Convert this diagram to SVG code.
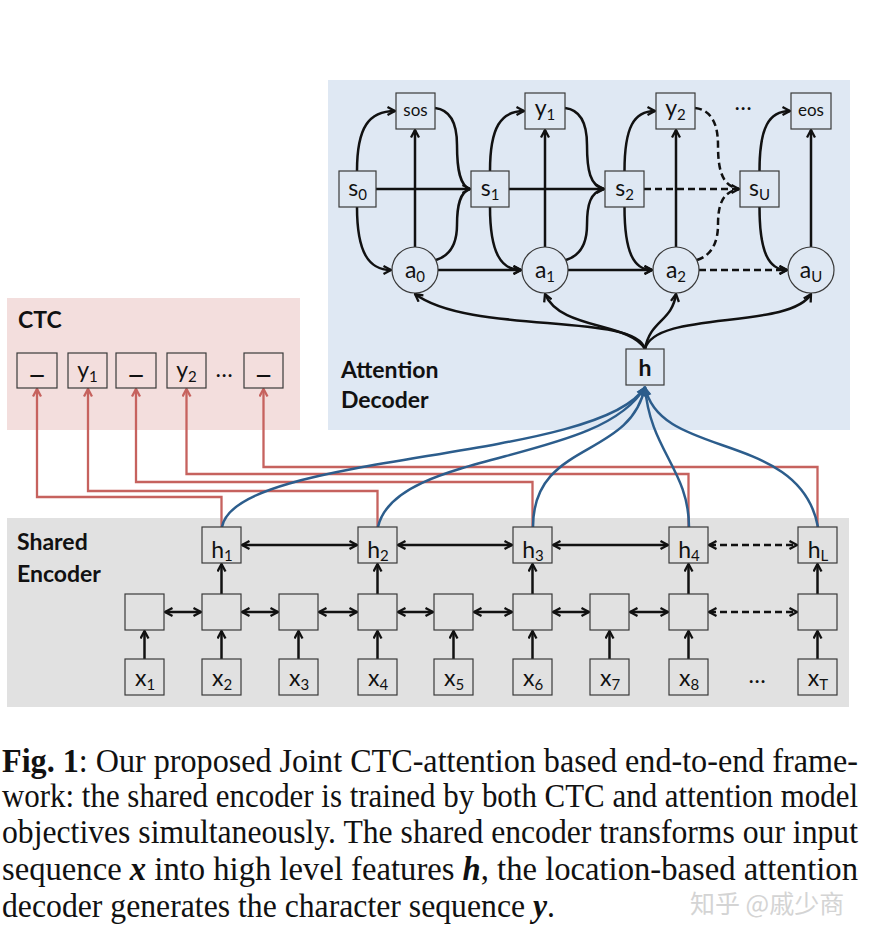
<svg xmlns="http://www.w3.org/2000/svg" width="874" height="938" viewBox="0 0 874 938">
<style>
.bx{stroke:#3a3a3a;stroke-width:1.2}
.dec{fill:#dfe8f3}
.ctc{fill:#f3dedd}
.enc{fill:#e1e1e1}
.lb{font-family:Lato,"Open Sans",sans-serif;font-size:23px;fill:#111;text-anchor:middle}
.sub{font-size:15px}
.sm{font-size:17px}
.us{font-size:34px}
.ttl{font-family:Lato,"Open Sans",sans-serif;font-weight:bold;font-size:23px;fill:#111}
.k{fill:none;stroke:#111;stroke-width:2.5}
.kd{fill:none;stroke:#111;stroke-width:2.5;stroke-dasharray:7,4}
.r{fill:none;stroke:#c6625e;stroke-width:2.3}
.b{fill:none;stroke:#2c5d8c;stroke-width:2.5}
.cap{font-family:"Liberation Serif","Times New Roman",serif;font-size:30px;fill:#111}
.m{font-weight:bold;font-style:italic}
</style>
<defs>
<marker id="ak" viewBox="0 0 10 10" markerWidth="10" markerHeight="10" refX="9" refY="5" orient="auto-start-reverse" markerUnits="userSpaceOnUse"><path d="M1.5,1 L9,5 L1.5,9" fill="none" stroke="#111" stroke-width="2.3" stroke-linejoin="miter"/></marker>
<marker id="ar" viewBox="0 0 10 10" markerWidth="10" markerHeight="10" refX="9" refY="5" orient="auto" markerUnits="userSpaceOnUse"><path d="M1.5,1 L9,5 L1.5,9" fill="none" stroke="#c6625e" stroke-width="2.3"/></marker>
<marker id="ab" viewBox="0 0 10 10" markerWidth="10" markerHeight="10" refX="9" refY="5" orient="auto" markerUnits="userSpaceOnUse"><path d="M1,1 L9,5 L1,9 Z" fill="#2c5d8c" stroke="#2c5d8c" stroke-width="1"/></marker>
</defs>
<rect width="874" height="938" fill="#fff"/>
<!-- panels -->
<g id="panels">
<rect x="328" y="80" width="522" height="350" fill="#dfe8f3"/>
<rect x="7" y="298" width="293" height="132" fill="#f3dedd"/>
<rect x="7" y="518" width="842" height="189" fill="#e1e1e1"/>
<text class="ttl" x="18" y="328" font-size="21">CTC</text>
<text class="ttl" x="341" y="378">Attention</text>
<text class="ttl" x="341" y="408">Decoder</text>
<text class="ttl" x="17" y="550">Shared</text>
<text class="ttl" x="17" y="582">Encoder</text>
</g>
<!-- connectors -->
<g id="connectors">
<!-- decoder col0 -->
<path class="k" marker-end="url(#ak)" d="M357,171 C357,127 369,111 395,111"/>
<path class="k" marker-end="url(#ak)" d="M357,207 C357,253 369,270 391,270"/>
<path class="k" marker-end="url(#ak)" d="M415,247 L415,130"/>
<path class="k" marker-end="url(#ak)" d="M375,189 L470,189"/>
<path class="k" d="M435,108 C452,110 457,125 457,145 C457,170 460,186 470,189"/>
<path class="k" d="M436,260 C452,255 457,240 457,225 C457,205 460,192 470,189"/>
<path class="k" marker-end="url(#ak)" d="M438,270 L521,270"/>
<!-- col1 -->
<path class="k" marker-end="url(#ak)" d="M490,171 C490,127 501,111 524,111"/>
<path class="k" marker-end="url(#ak)" d="M490,207 C490,253 501,270 521,270"/>
<path class="k" marker-end="url(#ak)" d="M545,247 L545,130"/>
<path class="k" marker-end="url(#ak)" d="M509,189 L604,189"/>
<path class="k" d="M565,108 C582,110 587,125 587,145 C587,170 590,186 604,189"/>
<path class="k" d="M566,260 C582,255 587,240 587,225 C587,205 590,192 604,189"/>
<path class="k" marker-end="url(#ak)" d="M568,270 L652,270"/>
<!-- col2 -->
<path class="k" marker-end="url(#ak)" d="M624.5,171 C624.5,127 634,111 655,111"/>
<path class="k" marker-end="url(#ak)" d="M624.5,207 C624.5,253 634,270 652,270"/>
<path class="k" marker-end="url(#ak)" d="M676,247 L676,130"/>
<path class="kd" marker-end="url(#ak)" d="M644,189 L739,189"/>
<path class="kd" d="M695,108 C712,110 718,125 718,145 C718,170 722,186 739,189"/>
<path class="kd" d="M697,260 C713,255 718,240 718,225 C718,205 722,192 739,189"/>
<path class="kd" marker-end="url(#ak)" d="M699,270 L787,270"/>
<!-- colU -->
<path class="k" marker-end="url(#ak)" d="M759.5,171 C759.5,127 769,111 790,111"/>
<path class="k" marker-end="url(#ak)" d="M759.5,207 C759.5,253 769,270 787,270"/>
<path class="k" marker-end="url(#ak)" d="M811,247 L811,130"/>
<!-- h to attention -->
<path class="k" marker-end="url(#ak)" d="M645,349 C635,312 470,335 415,294"/>
<path class="k" marker-end="url(#ak)" d="M645,349 C630,322 560,330 545,294"/>
<path class="k" marker-end="url(#ak)" d="M645,349 C650,320 672,322 676,294"/>
<path class="k" marker-end="url(#ak)" d="M645,349 C655,310 790,330 811,294"/>
<!-- CTC red -->
<path class="r" marker-end="url(#ar)" d="M221.5,527 L221.5,497 L37,497 L37,389"/>
<path class="r" marker-end="url(#ar)" d="M377.5,527 L377.5,491 L88,491 L88,389"/>
<path class="r" marker-end="url(#ar)" d="M532.5,527 L532.5,482 L136,482 L136,389"/>
<path class="r" marker-end="url(#ar)" d="M688.5,527 L688.5,474 L186.5,474 L186.5,389"/>
<path class="r" marker-end="url(#ar)" d="M817.5,527 L817.5,467 L263.5,467 L263.5,389"/>
<!-- blue to h -->
<path class="b" marker-end="url(#ab)" d="M222,527 C235,452 600,462 645,387"/>
<path class="b" marker-end="url(#ab)" d="M378,527 C395,450 600,465 645,387"/>
<path class="b" marker-end="url(#ab)" d="M533,527 C533,440 630,460 645,387"/>
<path class="b" marker-end="url(#ab)" d="M689,527 C689,470 650,450 645,387"/>
<path class="b" marker-end="url(#ab)" d="M818,527 C800,430 660,460 645,387"/>
<!-- encoder h row -->
<path class="k" marker-start="url(#ak)" marker-end="url(#ak)" d="M242,545 L357,545"/>
<path class="k" marker-start="url(#ak)" marker-end="url(#ak)" d="M398,545 L512,545"/>
<path class="k" marker-start="url(#ak)" marker-end="url(#ak)" d="M553,545 L668,545"/>
<path class="kd" marker-start="url(#ak)" marker-end="url(#ak)" d="M709,545 L797,545"/>
<!-- encoder mid row -->
<path class="k" marker-start="url(#ak)" marker-end="url(#ak)" d="M165,612 L201,612"/>
<path class="k" marker-start="url(#ak)" marker-end="url(#ak)" d="M242,612 L278,612"/>
<path class="k" marker-start="url(#ak)" marker-end="url(#ak)" d="M319,612 L357,612"/>
<path class="k" marker-start="url(#ak)" marker-end="url(#ak)" d="M398,612 L433,612"/>
<path class="k" marker-start="url(#ak)" marker-end="url(#ak)" d="M474,612 L512,612"/>
<path class="k" marker-start="url(#ak)" marker-end="url(#ak)" d="M553,612 L589,612"/>
<path class="k" marker-start="url(#ak)" marker-end="url(#ak)" d="M630,612 L668,612"/>
<path class="kd" marker-start="url(#ak)" marker-end="url(#ak)" d="M709,612 L797,612"/>
<!-- verticals mid->h -->
<path class="k" marker-end="url(#ak)" d="M221.5,594 L221.5,564"/>
<path class="k" marker-end="url(#ak)" d="M377.5,594 L377.5,564"/>
<path class="k" marker-end="url(#ak)" d="M532.5,594 L532.5,564"/>
<path class="k" marker-end="url(#ak)" d="M688.5,594 L688.5,564"/>
<path class="k" marker-end="url(#ak)" d="M817.5,594 L817.5,564"/>
<!-- verticals x->mid -->
<path class="k" marker-end="url(#ak)" d="M144.5,659 L144.5,631"/>
<path class="k" marker-end="url(#ak)" d="M221.5,659 L221.5,631"/>
<path class="k" marker-end="url(#ak)" d="M298.5,659 L298.5,631"/>
<path class="k" marker-end="url(#ak)" d="M377.5,659 L377.5,631"/>
<path class="k" marker-end="url(#ak)" d="M453.5,659 L453.5,631"/>
<path class="k" marker-end="url(#ak)" d="M532.5,659 L532.5,631"/>
<path class="k" marker-end="url(#ak)" d="M609.5,659 L609.5,631"/>
<path class="k" marker-end="url(#ak)" d="M688.5,659 L688.5,631"/>
<path class="k" marker-end="url(#ak)" d="M817.5,659 L817.5,631"/>
</g>
<!-- decoder nodes -->
<g id="s0"><rect class="bx dec" x="339" y="171" width="37" height="36"/><text class="lb" x="357.5" y="196">s<tspan class="sub" dy="4">0</tspan></text></g>
<g id="s1"><rect class="bx dec" x="471" y="171" width="38" height="36"/><text class="lb" x="490" y="196">s<tspan class="sub" dy="4">1</tspan></text></g>
<g id="s2"><rect class="bx dec" x="605" y="171" width="39" height="36"/><text class="lb" x="624.5" y="196">s<tspan class="sub" dy="4">2</tspan></text></g>
<g id="sU"><rect class="bx dec" x="740" y="171" width="39" height="36"/><text class="lb" x="759.5" y="196">s<tspan class="sub" dy="4">U</tspan></text></g>
<g id="sos"><rect class="bx dec" x="396" y="93" width="39" height="36"/><text class="lb sm" x="415.5" y="116">sos</text></g>
<g id="y1d"><rect class="bx dec" x="525" y="93" width="40" height="36"/><text class="lb" x="545" y="116">y<tspan class="sub" dy="4">1</tspan></text></g>
<g id="y2d"><rect class="bx dec" x="656" y="93" width="39" height="36"/><text class="lb" x="675.5" y="116">y<tspan class="sub" dy="4">2</tspan></text></g>
<g id="eos"><rect class="bx dec" x="791" y="93" width="40" height="36"/><text class="lb sm" x="811" y="116">eos</text></g>
<text class="lb" x="743" y="110" font-size="16">…</text>
<g id="a0"><circle class="bx dec" cx="415" cy="270" r="23"/><text class="lb" x="415" y="278">a<tspan class="sub" dy="4">0</tspan></text></g>
<g id="a1"><circle class="bx dec" cx="545" cy="270" r="23"/><text class="lb" x="545" y="278">a<tspan class="sub" dy="4">1</tspan></text></g>
<g id="a2"><circle class="bx dec" cx="676" cy="270" r="23"/><text class="lb" x="676" y="278">a<tspan class="sub" dy="4">2</tspan></text></g>
<g id="aU"><circle class="bx dec" cx="811" cy="270" r="23"/><text class="lb" x="811" y="278">a<tspan class="sub" dy="4">U</tspan></text></g>
<g id="h"><rect class="bx dec" x="626" y="349" width="38" height="36"/><text class="lb" x="645" y="376" font-weight="bold" font-size="22">h</text></g>
<!-- CTC nodes -->
<g id="c1"><rect class="bx ctc" x="17" y="353" width="40" height="35"/><text class="lb us" x="37" y="372">_</text></g>
<g id="c2"><rect class="bx ctc" x="68" y="353" width="39" height="35"/><text class="lb" x="87.5" y="378">y<tspan class="sub" dy="4">1</tspan></text></g>
<g id="c3"><rect class="bx ctc" x="116" y="353" width="40" height="35"/><text class="lb us" x="136" y="372">_</text></g>
<g id="c4"><rect class="bx ctc" x="167" y="353" width="39" height="35"/><text class="lb" x="186.5" y="378">y<tspan class="sub" dy="4">2</tspan></text></g>
<text class="lb" x="224" y="377" font-size="16">…</text>
<g id="c5"><rect class="bx ctc" x="244" y="353" width="39" height="35"/><text class="lb us" x="263.5" y="372">_</text></g>
<!-- encoder h -->
<g id="h1"><rect class="bx enc" x="202" y="527" width="39" height="36"/><text class="lb" x="222" y="558">h<tspan class="sub" dy="3">1</tspan></text></g>
<g id="h2"><rect class="bx enc" x="358" y="527" width="39" height="36"/><text class="lb" x="378" y="558">h<tspan class="sub" dy="3">2</tspan></text></g>
<g id="h3"><rect class="bx enc" x="513" y="527" width="39" height="36"/><text class="lb" x="533" y="558">h<tspan class="sub" dy="3">3</tspan></text></g>
<g id="h4"><rect class="bx enc" x="669" y="527" width="39" height="36"/><text class="lb" x="689" y="558">h<tspan class="sub" dy="3">4</tspan></text></g>
<g id="hL"><rect class="bx enc" x="798" y="527" width="39" height="36"/><text class="lb" x="818" y="558">h<tspan class="sub" dy="3">L</tspan></text></g>
<!-- encoder mid -->
<g id="m1"><rect class="bx enc" x="125" y="594" width="39" height="36"/></g>
<g id="m2"><rect class="bx enc" x="202" y="594" width="39" height="36"/></g>
<g id="m3"><rect class="bx enc" x="279" y="594" width="39" height="36"/></g>
<g id="m4"><rect class="bx enc" x="358" y="594" width="39" height="36"/></g>
<g id="m5"><rect class="bx enc" x="434" y="594" width="39" height="36"/></g>
<g id="m6"><rect class="bx enc" x="513" y="594" width="39" height="36"/></g>
<g id="m7"><rect class="bx enc" x="590" y="594" width="39" height="36"/></g>
<g id="m8"><rect class="bx enc" x="669" y="594" width="39" height="36"/></g>
<g id="mT"><rect class="bx enc" x="798" y="594" width="39" height="36"/></g>
<!-- encoder x -->
<g id="x1"><rect class="bx enc" x="125" y="659" width="39" height="36"/><text class="lb" x="145" y="686">x<tspan class="sub" dy="4">1</tspan></text></g>
<g id="x2"><rect class="bx enc" x="202" y="659" width="39" height="36"/><text class="lb" x="222" y="686">x<tspan class="sub" dy="4">2</tspan></text></g>
<g id="x3"><rect class="bx enc" x="279" y="659" width="39" height="36"/><text class="lb" x="299" y="686">x<tspan class="sub" dy="4">3</tspan></text></g>
<g id="x4"><rect class="bx enc" x="358" y="659" width="39" height="36"/><text class="lb" x="378" y="686">x<tspan class="sub" dy="4">4</tspan></text></g>
<g id="x5"><rect class="bx enc" x="434" y="659" width="39" height="36"/><text class="lb" x="454" y="686">x<tspan class="sub" dy="4">5</tspan></text></g>
<g id="x6"><rect class="bx enc" x="513" y="659" width="39" height="36"/><text class="lb" x="533" y="686">x<tspan class="sub" dy="4">6</tspan></text></g>
<g id="x7"><rect class="bx enc" x="590" y="659" width="39" height="36"/><text class="lb" x="610" y="686">x<tspan class="sub" dy="4">7</tspan></text></g>
<g id="x8"><rect class="bx enc" x="669" y="659" width="39" height="36"/><text class="lb" x="689" y="686">x<tspan class="sub" dy="4">8</tspan></text></g>
<text class="lb" x="757" y="683" font-size="16">…</text>
<g id="xT"><rect class="bx enc" x="798" y="659" width="39" height="36"/><text class="lb" x="818" y="686">x<tspan class="sub" dy="4">T</tspan></text></g>
<!-- caption -->
<g id="caption" transform="translate(2,772) scale(1,1.14)">
<text class="cap" x="0" y="0" textLength="856" lengthAdjust="spacingAndGlyphs"><tspan font-weight="bold">Fig. 1</tspan>: Our proposed Joint CTC-attention based end-to-end frame-</text>
<text class="cap" x="0" y="31" textLength="856" lengthAdjust="spacingAndGlyphs">work: the shared encoder is trained by both CTC and attention model</text>
<text class="cap" x="0" y="62.5" textLength="856" lengthAdjust="spacingAndGlyphs">objectives simultaneously. The shared encoder transforms our input</text>
<text class="cap" x="0" y="94.5" textLength="856" lengthAdjust="spacingAndGlyphs">sequence <tspan class="m">x</tspan> into high level features <tspan class="m">h</tspan>, the location-based attention</text>
<text class="cap" x="0" y="127" textLength="553" lengthAdjust="spacingAndGlyphs">decoder generates the character sequence <tspan class="m">y</tspan>.</text>
</g>
<text x="690" y="913" font-family="'Noto Sans CJK SC',sans-serif" font-size="25" fill="#d4d4d4">知乎 @戚少商</text>
</svg>
